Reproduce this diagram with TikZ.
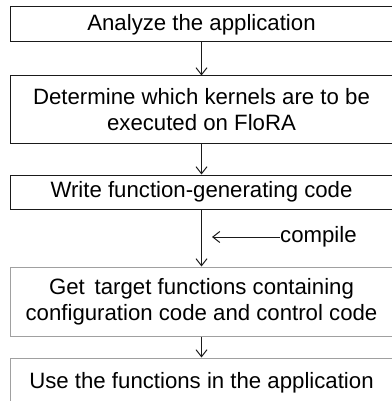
\documentclass[tikz,border=0pt]{standalone}
\usepackage{fontspec}
\setmainfont{Liberation Sans}
\usepackage{xcolor}
\usetikzlibrary{arrows.meta,positioning}
\definecolor{edgec}{HTML}{1A1A1A}
\definecolor{fadec}{HTML}{A0A0A0}
\tikzset{
  ar/.style={-{Straight Barb[length=7pt,width=11pt]},line width=1pt,edgec},
  box/.style={draw=edgec,line width=1pt,minimum width=383pt,inner sep=0pt,align=center,
    font=\fontsize{22.2}{26}\selectfont},
  gbox/.style={box,draw=fadec},
  lbl/.style={inner sep=0pt,font=\fontsize{22.2}{26}\selectfont}
}
\begin{document}
\begin{tikzpicture}[x=1pt,y=-1pt]
\useasboundingbox (0,0) rectangle (391,401);
\node[box,minimum height=35pt] (ana) at (201.5,24.5) {Analyze the application};
\node[box,minimum height=67pt] (ker) at (201.5,109.5) {Determine which kernels are to be\\executed on FloRA};
\node[box,minimum height=34pt] (wrt) at (201.5,192) {Write function-generating code};
\node[gbox,minimum height=69pt] (get) at (201.5,301.5) {Get\, target functions containing\\configuration code and control code};
\node[gbox,minimum height=50pt] (use) at (201.5,383) {Use the functions in the application};
% flow
\draw[ar] (ana) -- (ker);
\draw[ar] (ker) -- (wrt);
\draw[ar] (wrt) -- (get);
\draw[ar] (get) -- (use);
% compile step
\node[lbl,anchor=west] (cmp) at (280,237) {compile};
\coordinate (cmpend) at (212,237);
\draw[ar] (cmp.west) -- (cmpend);
\end{tikzpicture}
\end{document}
